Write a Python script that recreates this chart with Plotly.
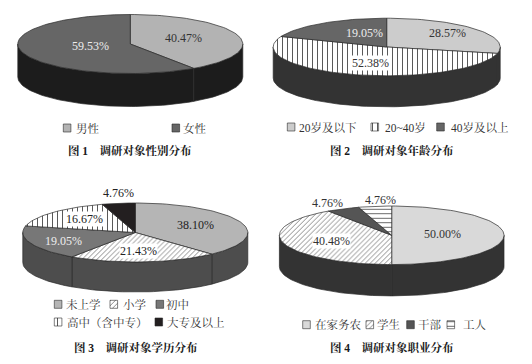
import math
import plotly.graph_objects as go

# ---- data ----
gender_labels = ["男性", "女性"]
gender_values = [40.47, 59.53]
age_labels = ["20岁及以下", "20~40岁", "40岁及以上"]
age_values = [28.57, 52.38, 19.05]
edu_labels = ["未上学", "小学", "初中", "高中（含中专）", "大专及以上"]
edu_values = [38.10, 21.43, 19.05, 16.67, 4.76]
job_labels = ["在家务农", "学生", "干部", "工人"]
job_values = [50.00, 40.48, 4.76, 4.76]
captions = ["图 1\u2003调研对象性别分布", "图 2\u2003调研对象年龄分布",
            "图 3\u2003调研对象学历分布", "图 4\u2003调研对象职业分布"]

# ---- styles (solid colour, or (pattern shape, size) for hatches) ----
HV = ("|", 5)
HD = ("/", 3.5)
HH = ("-", 4.5)
panels = [
    dict(values=gender_values, labels=gender_labels, caption=captions[0], cap_x=130, cap_y=150,
         geom=(130.3, 44, 112.5, 29.5, 33),
         top=["#b3b3b3", "#666666"], side=["#1c1c1c", "#1c1c1c"],
         text=[(183, 38, "#333333", None), (90, 46, "#eeeeee", None)],
         legend=[(63.3, 128, 75, 0), (172, 128, 182, 1)]),
    dict(values=age_values, labels=age_labels, caption=captions[1], cap_x=391.5, cap_y=150,
         geom=(386.7, 47, 113.5, 28.8, 31),
         top=["#cccccc", HV, "#666666"], side=["#333333", "#333333", "#333333"],
         text=[(447.7, 33, "#333333", None), (370, 63, "#333333", "#ffffff"), (364, 32.7, "#eeeeee", None)],
         legend=[(287.3, 127, 298.3, 0), (371, 127, 383.7, 1), (436.7, 127, 450, 2)]),
    dict(values=edu_values, labels=edu_labels, caption=captions[2], cap_x=135.5, cap_y=347,
         geom=(135.3, 232.5, 112.5, 29.5, 30),
         top=["#b5b5b5", HD, "#777777", HV, "#231f20"],
         side=["#4d4d4d", "#4d4d4d", "#4d4d4d", "#4d4d4d", "#4d4d4d"],
         text=[(195, 225, "#222222", None), (138, 251, "#222222", "#ffffff"), (63, 241, "#eeeeee", None),
               (84, 219, "#222222", "#ffffff"), (118, 193, "#222222", None)],
         legend=[(54.3, 304.3, 65.3, 0), (110, 304.3, 121.7, 1), (156, 304.3, 165, 2),
                 (54.3, 322, 66, 3), (155, 322, 165.7, 4)]),
    dict(values=job_values, labels=job_labels, caption=captions[3], cap_x=391.8, cap_y=347,
         geom=(391.7, 235.3, 112.3, 29.3, 31.3),
         top=["#d9d9d9", HD, "#555555", HH], side=["#333333", "#333333", "#333333", "#333333"],
         text=[(442, 234, "#333333", None), (331.7, 240.7, "#333333", "#ffffff"),
               (327.7, 202.7, "#333333", None), (380, 200, "#333333", None)],
         legend=[(302.7, 324.7, 314.3, 0), (366, 324.7, 376, 1), (406.7, 324.7, 417, 2), (447, 324.7, 462, 3)]),
]

LATIN = "Liberation Serif, Noto Serif CJK SC, Noto Sans CJK SC"
fig = go.Figure()


def add_poly(xs, ys, style, line="#2a2a2a", width=0.7):
    kw = dict(x=xs, y=ys, mode="lines", fill="toself", line=dict(color=line, width=width),
              hoverinfo="skip", showlegend=False)
    if isinstance(style, tuple):
        kw["fillcolor"] = "#ffffff"
        kw["fillpattern"] = dict(shape=style[0], size=style[1], solidity=0.15,
                                 fgcolor="#222222", bgcolor="#ffffff", fillmode="replace")
    else:
        kw["fillcolor"] = style
    fig.add_trace(go.Scatter(**kw))


def arc(cx, cy, rx, ry, a0, a1, dy=0):
    n = max(2, int(abs(a1 - a0) / 2) + 2)
    angs = [a0 + (a1 - a0) * i / (n - 1) for i in range(n)]
    return ([cx + rx * math.sin(math.radians(a)) for a in angs],
            [cy + dy - ry * math.cos(math.radians(a)) for a in angs])


annotations = []
for p in panels:
    cx, cy, rx, ry, depth = p["geom"]
    total = sum(p["values"])
    edges = [0.0]
    for v in p["values"]:
        edges.append(edges[-1] + 360.0 * v / total)
    # side wall: only the front half (90..270 degrees clockwise from 12 o'clock) shows
    for i in range(len(p["values"])):
        a0, a1 = max(edges[i], 90), min(edges[i + 1], 270)
        if a1 <= a0:
            continue
        tx, ty = arc(cx, cy, rx, ry, a0, a1)
        bx, by = arc(cx, cy, rx, ry, a1, a0, dy=depth)
        add_poly(tx + bx + tx[:1], ty + by + ty[:1], p["side"][i])
    # top face
    for i in range(len(p["values"])):
        ax, ay = arc(cx, cy, rx, ry, edges[i], edges[i + 1])
        add_poly([cx] + ax + [cx], [cy] + ay + [cy], p["top"][i])
    # value labels
    for v, (x, y, col, bg) in zip(p["values"], p["text"]):
        annotations.append(dict(x=x, y=y, text=f"{v:.2f}%", showarrow=False, xref="x", yref="y",
                                font=dict(family=LATIN, size=12, color=col),
                                bgcolor=bg, borderpad=0))
    # legend
    for (sx, y, tx, idx) in p["legend"]:
        add_poly([sx, sx + 7.6, sx + 7.6, sx, sx], [y - 4, y - 4, y + 4, y + 4, y - 4],
                 p["top"][idx], width=0.6)
        annotations.append(dict(x=tx, y=y, text=p["labels"][idx], showarrow=False, xanchor="left",
                                xref="x", yref="y", xshift=-1,
                                font=dict(family=LATIN, size=11.5, color="#333333")))
    # caption
    annotations.append(dict(x=p["cap_x"], y=p["cap_y"], text="<b>" + p["caption"] + "</b>", showarrow=False,
                            xref="x", yref="y", font=dict(family=LATIN, size=11.5, color="#1a1a1a")))

fig.update_layout(
    width=532, height=364, margin=dict(l=0, r=0, t=0, b=0),
    paper_bgcolor="#ffffff", plot_bgcolor="#ffffff", showlegend=False,
    annotations=annotations,
    xaxis=dict(range=[0, 532], visible=False, fixedrange=True),
    yaxis=dict(range=[364, 0], visible=False, fixedrange=True),
)
fig.write_html("out.html", config=dict(displayModeBar=False),
               post_script="document.body.style.margin='0';")
